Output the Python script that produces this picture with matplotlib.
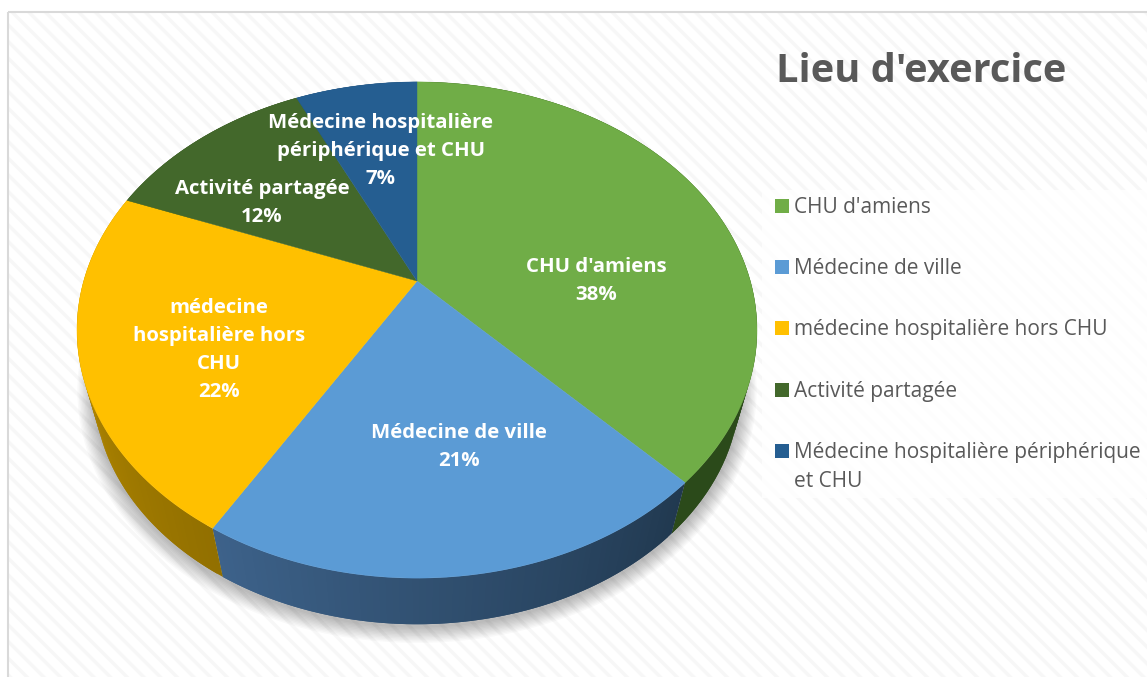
import numpy as np
import matplotlib
matplotlib.use('Agg')
import matplotlib.pyplot as plt
from matplotlib.colors import to_rgb
from matplotlib.patches import Rectangle

categories = ["CHU d'amiens", "Médecine de ville", "médecine hospitalière hors CHU",
              "Activité partagée", "Médecine hospitalière périphérique\net CHU"]
values = [37.9, 20.6, 22.4, 12.1, 7.0]
slice_labels = ["CHU d'amiens", "Médecine de ville", "médecine\nhospitalière hors\nCHU",
                "Activité partagée", "Médecine hospitalière\npériphérique et CHU"]
title = "Lieu d'exercice"

colors = ['#70AD47', '#5B9BD5', '#FFC000', '#43682B', '#255E91']
wall_colors = [('#2b4a1a', '#2b4a1a'), ('#213950', '#3d628a'), ('#927000', '#c89600'),
               ('#2b4a1a', '#2b4a1a'), ('#1a4468', '#1a4468')]
label_pos = [(596, 281), (459, 447), (219, 350), (262, 203), (381, 151)]

plt.rcParams['font.family'] = ['Open Sans', 'DejaVu Sans']
plt.rcParams['hatch.linewidth'] = 2.5

fig = plt.figure(figsize=(11.47, 6.77), dpi=100)
ax = fig.add_axes([0, 0, 1, 1])
ax.set_xlim(0, 1147)
ax.set_ylim(677, 0)
ax.axis('off')

# background with the faint diagonal stripes
ax.add_patch(Rectangle((8, 12), 1150, 680, facecolor='white', edgecolor='#f7f7f7',
                       hatch='\\\\', linewidth=0, zorder=0))
ax.add_patch(Rectangle((8, 12), 1150, 680, facecolor='none', edgecolor='#d9d9d9',
                       linewidth=1.5, zorder=1))
ax.add_patch(Rectangle((762, 190), 390, 308, facecolor='white', alpha=0.8,
                       linewidth=0, zorder=1))


# tilted pie: circle seen in perspective, the far side is squeezed
def top_face(theta):
    u, v = np.sin(theta), np.cos(theta)
    w = 1 + 0.1976 * v
    return 417 + 333.3 * u / w, 281 - 238.4 * v / w


def bottom_face(theta):
    x, y = top_face(theta)
    return 417 + (x - 417) * 0.95, 281 + (y - 281) * 0.95 + 61


edges = np.radians(np.concatenate([[0], np.cumsum(values)]) * 3.6)

# soft shadow below the wall
outline = np.linspace(0, 2 * np.pi, 400)
sx, sy = bottom_face(outline)
for lw in np.arange(2, 26, 2):
    ax.plot(sx, sy + 2, color='black', alpha=0.022, lw=lw, zorder=2)

# outer wall, split in thin strips for the gradient
for i in range(len(values)):
    steps = np.linspace(edges[i], edges[i + 1], 80)
    c0, c1 = np.array(to_rgb(wall_colors[i][0])), np.array(to_rgb(wall_colors[i][1]))
    for j in range(len(steps) - 1):
        # strips overlap the next one so no seams show
        t = steps[j:j + 3]
        x1, y1 = top_face(t)
        x2, y2 = bottom_face(t[::-1])
        col = c0 + (c1 - c0) * j / (len(steps) - 2)
        ax.fill(np.r_[x1, x2], np.r_[y1, y2], color=col, lw=0, zorder=3)

# top face
for i in range(len(values)):
    t = np.linspace(edges[i], edges[i + 1], 200)
    x, y = top_face(t)
    ax.fill(np.r_[417, x], np.r_[281, y], color=colors[i], lw=0.3, zorder=4)

for lab, v, (x, y) in zip(slice_labels, values, label_pos):
    ax.text(x, y, f'{lab}\n{round(v)}%', color='white', fontsize=14.7, fontweight='bold',
            ha='center', va='center', linespacing=1.52, zorder=5)

ax.text(776, 72, title, color='#595959', fontsize=28.6, fontweight='bold',
        ha='left', va='center', zorder=5)

# legend
for i, cat in enumerate(categories):
    y = 206 + i * 61.2
    ax.add_patch(Rectangle((775, y - 7), 14, 14, facecolor=colors[i], linewidth=0, zorder=5))
    ax.text(794, y - 9, cat, color='#595959', fontsize=15, ha='left', va='top',
            linespacing=1.5, zorder=5)

fig.savefig('out.png', dpi=100)
